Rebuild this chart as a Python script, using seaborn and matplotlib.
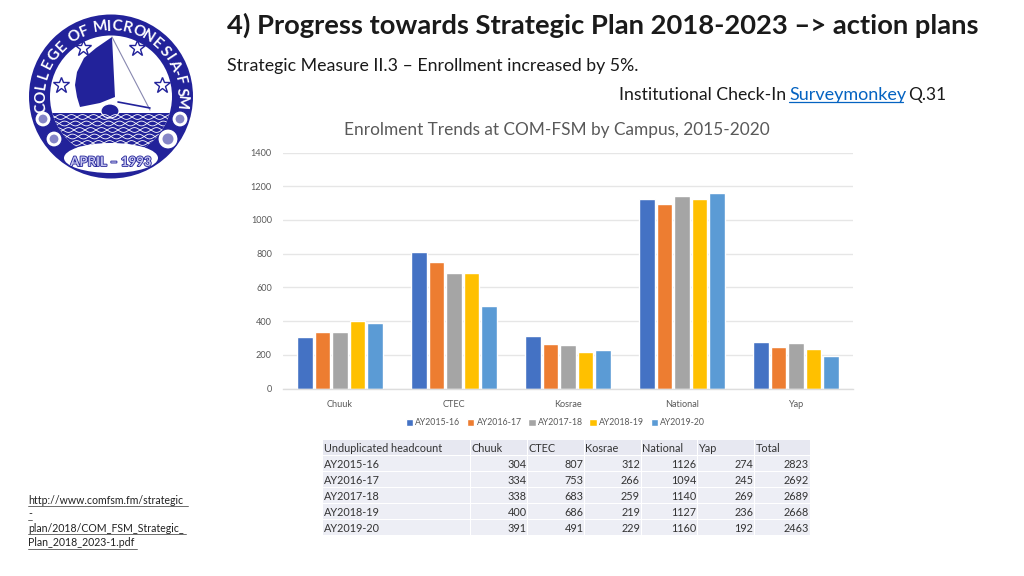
import matplotlib
matplotlib.use("Agg")
import matplotlib.pyplot as plt
from matplotlib.patches import Circle, Ellipse, Polygon, Rectangle
import matplotlib.patheffects as pe
import seaborn as sns
import numpy as np
import pandas as pd

campuses = ["Chuuk", "CTEC", "Kosrae", "National", "Yap"]
years = ["AY2015-16", "AY2016-17", "AY2017-18", "AY2018-19", "AY2019-20"]
chuuk = [304, 334, 338, 400, 391]
ctec = [807, 753, 683, 686, 491]
kosrae = [312, 266, 259, 219, 229]
national = [1126, 1094, 1140, 1127, 1160]
yap = [274, 245, 269, 236, 192]
totals = [2823, 2692, 2689, 2668, 2463]
colors = ["#4472C4", "#ED7D31", "#A5A5A5", "#FFC000", "#5B9BD5"]

NAVY = "#22229A"
GREY = "#595959"

sns.set_theme(style="white")
plt.rcParams["font.family"] = ["Lato", "DejaVu Sans"]

rows = []
for campus, vals in zip(campuses, [chuuk, ctec, kosrae, national, yap]):
    for year, v in zip(years, vals):
        rows.append({"campus": campus, "year": year, "enrolment": v})
df = pd.DataFrame(rows)

W, H = 1024, 576
fig = plt.figure(figsize=(W / 100, H / 100), dpi=100, facecolor="white")

# overlay in pixel coordinates for everything that is not the bar chart
pg = fig.add_axes([0, 0, 1, 1])
pg.set_xlim(0, W)
pg.set_ylim(H, 0)
pg.axis("off")

# bar chart
ax = fig.add_axes([283 / W, 1 - 388.5 / H, 570 / W, 236 / H])
sns.barplot(data=df, x="campus", y="enrolment", hue="year", order=campuses,
            hue_order=years, palette=colors, width=0.767, gap=0.11,
            saturation=1, ax=ax)
ax.set_ylim(0, 1400)
ax.set_yticks(range(0, 1401, 200))
ax.set_xlabel("")
ax.set_ylabel("")
ax.grid(axis="y", color="#E6E6E6", linewidth=1)
ax.set_axisbelow(True)
sns.despine(ax=ax, left=True, top=True, right=True)
ax.spines["bottom"].set_color("#DDDDDD")
ax.spines["bottom"].set_linewidth(1)
ax.tick_params(axis="both", length=0, labelsize=6.6, labelcolor=GREY)
ax.tick_params(axis="x", pad=8)
ax.tick_params(axis="y", pad=8)
ax.patch.set_alpha(0)
ax.legend(loc="center", bbox_to_anchor=(0.478, -0.145), ncol=5, frameon=False,
          fontsize=6.3, labelcolor=GREY, handlelength=0.85, handleheight=0.85,
          handletextpad=0.25, columnspacing=0.75)

# slide texts
pg.text(227, 25, "4) Progress towards Strategic Plan 2018-2023 –> action plans",
        fontsize=19.7, fontweight="bold", color="#1A1A1A", va="center", ha="left")
pg.text(227, 66, "Strategic Measure II.3 – Enrollment increased by 5%.",
        fontsize=12.8, color="#1A1A1A", va="center")
pg.text(619, 95, "Institutional Check-In", fontsize=12.7, color="#1A1A1A", va="center")
pg.text(789, 95, "Surveymonkey", fontsize=13, color="#0563C1", va="center")
pg.plot([789, 903], [102, 102], color="#0563C1", lw=0.9)
pg.text(908, 95, "Q.31", fontsize=12.5, color="#1A1A1A", va="center")
pg.text(557, 130, "Enrolment Trends at COM-FSM by Campus, 2015-2020",
        fontsize=12.45, color=GREY, va="center", ha="center")

# reference link, bottom left
link_lines = ["http://www.comfsm.fm/strategic", "-",
              "plan/2018/COM_FSM_Strategic_", "Plan_2018_2023-1.pdf"]
link_y = [500, 514, 528, 543]
link_end = [188, 32, 186, 137]
for line, y, x1 in zip(link_lines, link_y, link_end):
    pg.text(28, y, line, fontsize=7.6, color="#222222", va="center")
    pg.plot([28, x1], [y + 6, y + 6], color="#555555", lw=0.6)

# table under the chart
col_x = [323, 471, 528, 585, 641.5, 698, 755, 810.5]
row_y = [440, 456, 472, 488, 504, 520, 535.5]
header = ["Unduplicated headcount"] + campuses + ["Total"]
table_rows = list(zip(years, chuuk, ctec, kosrae, national, yap, totals))
for r in range(6):
    for c in range(7):
        pg.add_patch(Rectangle((col_x[c], row_y[r]), col_x[c + 1] - col_x[c] - 1,
                               row_y[r + 1] - row_y[r] - 1,
                               fc="#EDEEF5" if r else "#E7E8F1", ec="none"))
for c, label in enumerate(header):
    pg.text(col_x[c] + 0.5, 448.5, label, fontsize=7.8, color="#333333", va="center")
for r, row in enumerate(table_rows):
    y = row_y[r + 1] + 8
    pg.text(col_x[0] + 0.5, y, row[0], fontsize=7.8, color="#333333", va="center")
    for c, v in enumerate(row[1:], start=1):
        pg.text(col_x[c + 1] - 1.5, y, str(v), fontsize=7.8, color="#333333",
                va="center", ha="right")

# logo
cx, cy = 111, 96.5
pg.add_patch(Circle((cx, cy), 82, fc=NAVY, ec="none"))
inner = Circle((cx, cy), 61, fc="white", ec="none")
pg.add_patch(inner)

# water: navy block with white scallops, clipped on the inner circle
water = Rectangle((40, 113), 142, 50, fc=NAVY, ec="none")
pg.add_patch(water)
water.set_clip_path(inner)
wx = np.linspace(40, 182, 300)
for i, wy in enumerate(np.arange(117, 156, 6.5)):
    for sign in (1, -1):
        wave, = pg.plot(wx, wy + sign * 2.4 * np.sin((wx + i * 7) * np.pi / 11),
                        color="white", lw=0.6)
        wave.set_clip_path(inner)

# sail, mast, rope and hull
pg.add_patch(Polygon([(112, 37), (96, 48), (84, 58), (77, 72), (75, 85), (77, 97),
                      (80, 107), (100, 103), (115, 97)], fc=NAVY, ec="none"))
pg.plot([112, 150], [37, 110], color="#8888B0", lw=0.8)
pg.plot([118, 150], [102, 108], color=NAVY, lw=1.2)
pg.add_patch(Ellipse((110, 111), 18, 14, fc=NAVY, ec="white", lw=0.8))

# stars and small seals
for sx, sy in [(83, 48), (137, 48), (61, 85), (162, 85)]:
    pg.plot(sx, sy, marker="*", ms=12, mfc="white", mec=NAVY, mew=1.0)
for sx, sy, r in [(43, 119, 8), (54, 139, 8), (180, 119, 8), (168, 139, 10)]:
    pg.add_patch(Circle((sx, sy), r, fc="white", ec=NAVY, lw=0.8))
    pg.add_patch(Circle((sx, sy), r * 0.55, fc=NAVY, ec="none", alpha=0.55))

# date banner
pg.add_patch(Ellipse((111, 158), 94, 30, fc="white", ec="none"))
pg.text(111, 162, "APRIL – 1993", fontsize=9.5, fontweight="bold", color="#C5C5EE",
        ha="center", va="center",
        path_effects=[pe.withStroke(linewidth=1.2, foreground=NAVY)])

# ring lettering, narrow signs get a smaller step
ring_text = "COLLEGE OF MICRONESIA-FSM"
steps = [0.5 if ch in " I-" else 1.0 for ch in ring_text]
angles = np.cumsum([0] + [(a + b) / 2 for a, b in zip(steps, steps[1:])])
angles = -99 + angles / angles[-1] * 194
for ch, a in zip(ring_text, angles):
    t = np.deg2rad(a)
    pg.text(cx + 71.5 * np.sin(t), cy - 71.5 * np.cos(t), ch, rotation=-a,
            rotation_mode="anchor", fontsize=11, color="white", fontweight="bold",
            ha="center", va="center_baseline")

fig.savefig("out.png", dpi=100)
